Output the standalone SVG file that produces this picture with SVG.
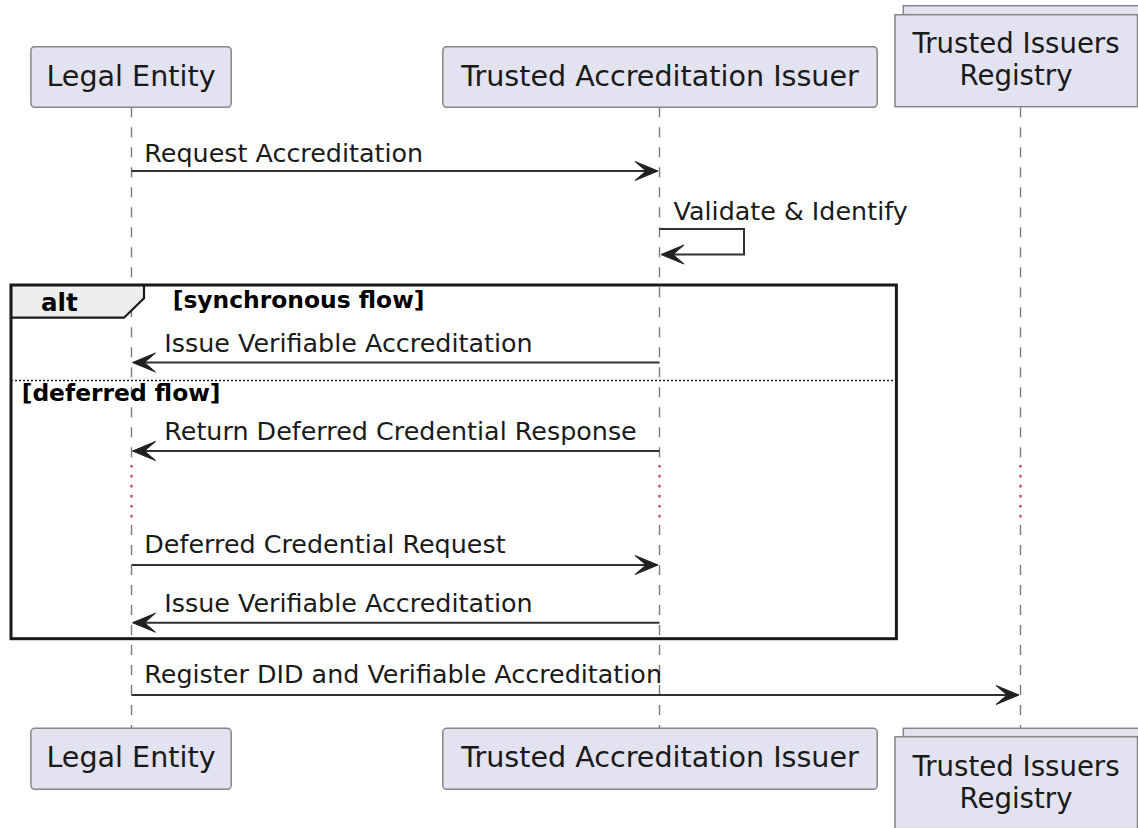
<svg xmlns="http://www.w3.org/2000/svg" width="1138" height="828" viewBox="0 0 1138 828">
  <style>
    .part { fill: #E2E2F0; stroke: #868686; stroke-width: 1.5; }
    .ptxt { font-family: "DejaVu Sans", sans-serif; font-size: 28.6px; fill: #1a1a1a; text-anchor: middle; }
    .ptxt2 { font-family: "DejaVu Sans", sans-serif; font-size: 27.6px; fill: #1a1a1a; text-anchor: middle; }
    .life { stroke: #7a7a7a; stroke-width: 1.4; stroke-dasharray: 10 10; fill: none; }
    .delay { stroke: #C8336E; stroke-width: 2.2; stroke-dasharray: 2.5 7.5; fill: none; }
    .msg { stroke: #303030; stroke-width: 2; fill: none; }
    .head { fill: #202020; stroke: #202020; stroke-width: 1; stroke-linejoin: miter; }
    .mtxt { font-family: "DejaVu Sans", sans-serif; font-size: 25.4px; fill: #1a1a1a; }
    .frame { fill: none; stroke: #1a1a1a; stroke-width: 3; }
    .tab { fill: #EEEEEE; stroke: #1a1a1a; stroke-width: 2.2; }
    .sep { stroke: #1a1a1a; stroke-width: 1.5; stroke-dasharray: 2 2; fill: none; }
    .btxt { font-family: "DejaVu Sans", sans-serif; font-weight: bold; fill: #000; }
  </style>
  <defs>
    <!-- filled open-notch arrowheads, tip at the origin -->
    <path id="arrowR" d="M0,0 L-23,-9.5 L-12,0 L-23,9.5 Z"/>
    <path id="arrowL" d="M0,0 L23,-9.5 L12,0 L23,9.5 Z"/>
  </defs>

  <!-- lifelines, broken by the delay section -->
  <g id="lifelines">
    <line class="life" x1="131.5" y1="107.3" x2="131.5" y2="459"/>
    <line class="delay" x1="131.5" y1="465" x2="131.5" y2="520"/>
    <line class="life" x1="131.5" y1="525" x2="131.5" y2="728.3"/>
    <line class="life" x1="659.5" y1="107.3" x2="659.5" y2="459"/>
    <line class="delay" x1="659.5" y1="465" x2="659.5" y2="520"/>
    <line class="life" x1="659.5" y1="525" x2="659.5" y2="728.3"/>
    <line class="life" x1="1020.5" y1="107.3" x2="1020.5" y2="459"/>
    <line class="delay" x1="1020.5" y1="465" x2="1020.5" y2="520"/>
    <line class="life" x1="1020.5" y1="525" x2="1020.5" y2="728.3"/>
  </g>

  <!-- participants (top) -->
  <g id="legal-entity-top">
    <rect class="part" x="30.9" y="46.7" width="200.3" height="60.6" rx="4"/>
    <text class="ptxt" x="131" y="85.7">Legal Entity</text>
  </g>
  <g id="issuer-top">
    <rect class="part" x="442.8" y="46.7" width="434.4" height="60.6" rx="4"/>
    <text class="ptxt" x="660" y="85.7">Trusted Accreditation Issuer</text>
  </g>
  <g id="registry-top">
    <rect class="part" x="903.3" y="5.7" width="242" height="92"/>
    <rect class="part" x="895" y="14.7" width="242.5" height="92"/>
    <text class="ptxt2" x="1016" y="53.3">Trusted Issuers</text>
    <text class="ptxt2" x="1016" y="85">Registry</text>
  </g>

  <!-- participants (bottom) -->
  <g id="legal-entity-bottom">
    <rect class="part" x="30.9" y="728.3" width="200.3" height="61" rx="4"/>
    <text class="ptxt" x="131" y="767.3">Legal Entity</text>
  </g>
  <g id="issuer-bottom">
    <rect class="part" x="442.8" y="728.3" width="434.4" height="61" rx="4"/>
    <text class="ptxt" x="660" y="767.3">Trusted Accreditation Issuer</text>
  </g>
  <g id="registry-bottom">
    <rect class="part" x="903.3" y="728.3" width="242" height="92"/>
    <rect class="part" x="895" y="736.7" width="242.5" height="92"/>
    <text class="ptxt2" x="1016" y="776">Trusted Issuers</text>
    <text class="ptxt2" x="1016" y="808.3">Registry</text>
  </g>

  <!-- alt fragment -->
  <g id="alt-fragment">
    <path class="tab" d="M11,285 H144 V298.3 L124,317.7 H11 Z"/>
    <rect class="frame" x="11" y="285" width="885.4" height="353.7"/>
    <text class="btxt" x="41" y="310.5" font-size="24.5">alt</text>
    <text class="btxt" x="172.7" y="307.5" font-size="23.4">[synchronous flow]</text>
    <line class="sep" x1="11" y1="380.5" x2="896.4" y2="380.5"/>
    <text class="btxt" x="21.7" y="401" font-size="23.4">[deferred flow]</text>
  </g>

  <!-- messages -->
  <g id="connectors">
    <g id="m1">
      <line class="msg" x1="131.5" y1="171" x2="650" y2="171"/>
      <use href="#arrowR" class="head" x="658" y="171"/>
      <text class="mtxt" x="144.3" y="162.3">Request Accreditation</text>
    </g>
    <g id="m2">
      <path class="msg" d="M659.5,229 H744 V254.5 H668"/>
      <use href="#arrowL" class="head" x="661" y="254.5"/>
      <text class="mtxt" x="673.6" y="220">Validate &amp; Identify</text>
    </g>
    <g id="m3">
      <line class="msg" x1="659.5" y1="362.5" x2="142" y2="362.5"/>
      <use href="#arrowL" class="head" x="132.5" y="362.5"/>
      <text class="mtxt" x="164.3" y="351.7">Issue Verifiable Accreditation</text>
    </g>
    <g id="m4">
      <line class="msg" x1="659.5" y1="451" x2="142" y2="451"/>
      <use href="#arrowL" class="head" x="132.5" y="451"/>
      <text class="mtxt" x="164.3" y="440">Return Deferred Credential Response</text>
    </g>
    <g id="m5">
      <line class="msg" x1="131.5" y1="565" x2="650" y2="565"/>
      <use href="#arrowR" class="head" x="658" y="565"/>
      <text class="mtxt" x="144.3" y="553.3">Deferred Credential Request</text>
    </g>
    <g id="m6">
      <line class="msg" x1="659.5" y1="622.7" x2="142" y2="622.7"/>
      <use href="#arrowL" class="head" x="132.5" y="622.7"/>
      <text class="mtxt" x="164.3" y="611.7">Issue Verifiable Accreditation</text>
    </g>
    <g id="m7">
      <line class="msg" x1="131.5" y1="695" x2="1010" y2="695"/>
      <use href="#arrowR" class="head" x="1019" y="695"/>
      <text class="mtxt" x="144.3" y="683.3">Register DID and Verifiable Accreditation</text>
    </g>
  </g>
</svg>
